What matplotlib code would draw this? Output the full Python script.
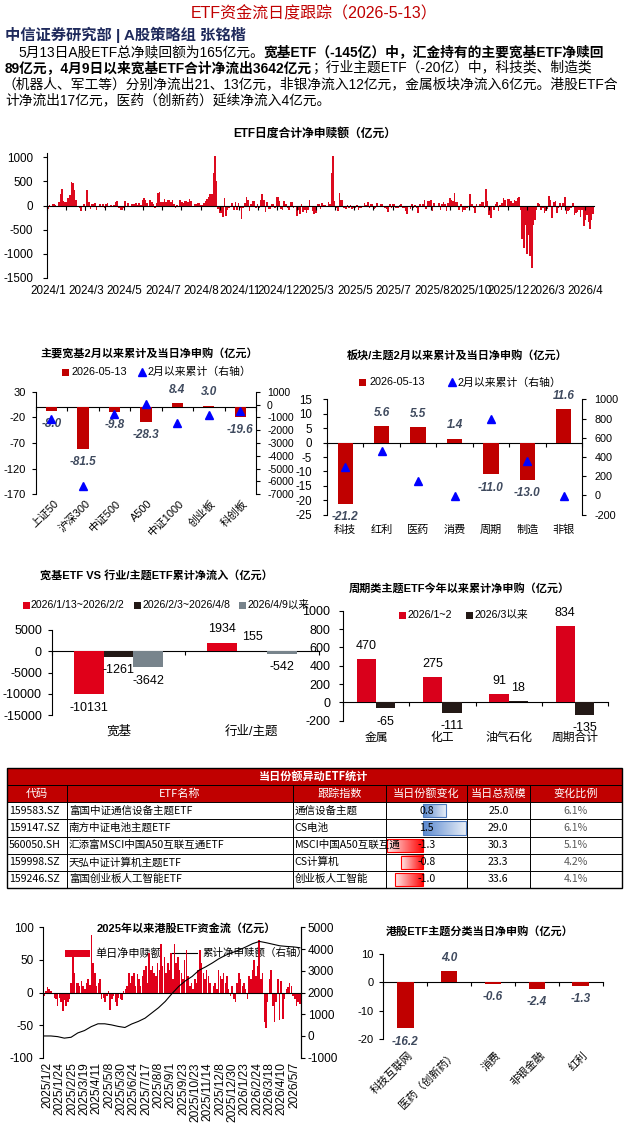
import numpy as np
import matplotlib.pyplot as plt
from matplotlib.patches import Rectangle
from matplotlib.transforms import blended_transform_factory as blend
from matplotlib.colors import to_rgb

plt.rcParams['font.family'] = ['Liberation Sans', 'Noto Sans CJK SC']
plt.rcParams['axes.unicode_minus'] = False

# ---------------- data ----------------
# ETF daily net subscription (100m yuan), 2024/1 -> 2026/5
daily_flow = [
    -70, 20, -20, 30, 30, 20, -20, 80, 230, 350, 100, 80, 80, 150, 220, 490, 470, 330, 120, -30,
    -50, -120, -30, 40, -110, 320, 80, -70, 30, 30, 50, -90, -30, 30, -30, 30, -50, 30, 60, -30,
    20, -20, 20, 80, 100, -50, -100, -100, -40, 100, -20, 60, -20, 30, 30, 30, 60, 20, 60, 20,
    110, 160, 110, 60, -20, 110, 70, 40, -40, 60, 260, 290, 80, 80, 130, 80, 120, 110, 70, 120,
    40, -40, 20, -20, 110, 70, 60, 100, 100, 80, 130, 100, -20, 30, 30, 60, 60, 20, 20, 50,
    90, 130, 180, 250, 250, 670, 1020, 500, -80, -150, -160, -240, 160, -220, -100, -50, -20, 50, -100, 80,
    -100, 60, -40, -280, -40, 60, 180, 110, -110, 30, 100, 100, -50, 30, -50, 120, 250, 120, -130, 70,
    -70, -70, 40, 40, -40, 170, 180, 100, -80, -90, 100, 40, -50, -90, 80, 80, -50, -30, -220, -100,
    -170, 30, -130, -100, -150, -90, 120, -30, -120, -180, -150, 40, 40, -70, 50, 20, 20, -20, 80, 30,
    670, 1020, 100, -50, -110, 270, 110, 110, -50, -70, 20, -60, 20, -70, -40, -40, 20, -100, -40, -40,
    -20, 50, 20, 70, -60, 30, 40, -70, -50, 60, -20, 30, 40, -30, -40, -80, -140, 30, -50, 30,
    40, -40, -60, 20, 30, -60, -50, -120, -170, -20, -70, 40, -40, 20, -50, -150, 30, -30, 40, 120,
    -80, 100, 90, 110, -110, 60, -30, -30, 60, -100, 30, 70, 40, -110, 50, 150, 110, 90, 270, 80,
    70, -100, 30, -130, -100, -90, -40, -20, 230, 30, -60, -150, 30, -30, 40, 70, 80, -60, 350, 90,
    -200, -260, -30, -100, 30, 80, -110, 20,
    60, 150, 120, -20, 140, 130, 100, 60, 120, 100, 150, 170, -100,
    -700, -870, -400, -1000, -600, -1050, -1300, -400,
    -300, -100, 50, 30, -100, -60, -150, -120, -80, 200, 120, -250, 80, 100, -150, -50, 50, -100, 60,
    170, -180, -120, -100, -60, 60, -200, -150, -130, -100, -230, -100, -430, -300, -200, -350, -480,
    -300, -180,
]
daily_labels = ['2024/1', '2024/3', '2024/5', '2024/7', '2024/8', '2024/11', '2024/12', '2025/3',
                '2025/5', '2025/7', '2025/8', '2025/10', '2025/12', '2026/3', '2026/4']

broad_names = ['上证50', '沪深300', '中证500', 'A500', '中证1000', '创业板', '科创板']
broad_today = [-8.0, -81.5, -9.8, -28.3, 8.4, 3.0, -19.6]
broad_cum = [-1150, -6350, -760, 20, -1440, -840, -520]

sector_names = ['科技', '红利', '医药', '消费', '周期', '制造', '非银']
sector_today = [-21.2, 5.6, 5.5, 1.4, -11.0, -13.0, 11.6]
sector_cum = [295, 465, 150, -5, 800, 355, -5]

group_names = ['宽基', '行业/主题']
period_names = ['2026/1/13~2026/2/2', '2026/2/3~2026/4/8', '2026/4/9以来']
flow_p1 = [-10131, 1934]
flow_p2 = [-1261, 155]
flow_p3 = [-3642, -542]

cyc_names = ['金属', '化工', '油气石化', '周期合计']
cyc_jan_feb = [470, 275, 91, 834]
cyc_since_mar = [-65, -111, 18, -135]

tbl_codes = ['159583.SZ', '159147.SZ', '560050.SH', '159998.SZ', '159246.SZ']
tbl_names = ['富国中证通信设备主题ETF', '南方中证电池主题ETF', '汇添富MSCI中国A50互联互通ETF',
             '天弘中证计算机主题ETF', '富国创业板人工智能ETF']
tbl_index = ['通信设备主题', 'CS电池', 'MSCI中国A50互联互通', 'CS计算机', '创业板人工智能']
tbl_share_chg = [0.8, 1.5, -1.3, -0.8, -1.0]
tbl_size = [25.0, 29.0, 30.3, 23.3, 33.6]
tbl_ratio = ['6.1%', '6.1%', '5.1%', '4.2%', '4.1%']

hk_daily = [
    -5, 3, 8, 5, 3, -2, -8, -10, -20, -8, -15, -28, -12, -20, -15, -10, 15, 60, 30, 15,
    15, 10, 18, 10, 5, 15, 20, 12, 88, 45, 30, 10, 15, 20, -10, -8, -15, -5, 3, -27,
    -10, -5, -15, -20, -8, -10, -12, 3, 5, 10, 30, 15, 25, 30, 10, 28, 20, 10, 25, 35,
    40, 15, 60, 35, 40, 30, 25, 45, 35, 75, 40, 55, 30, 45, 35, 60, 20, 74, 45, 55,
    35, 30, 20, 50, 65, 25, 10, 15, 5, 20, 15, 35, 65, 45, 30, 20, 35, 25, 15, -3,
    10, 15, 5, 35, 25, 20, 30, 15, 25, 5, -5, 10, -10, -15, 15, 30, 20, 10, 15, 5,
    -10, 25, 20, 35, 50, 25, 40, 80, 20, 30, -45, -55, -15, 20, 35, -20, -45, -15, 20, -42,
    17, -40, -10, 5, 8, 15, 10, -5, -10, -20, -15, -18,
]
hk_cum = [0, 0, -30, -100, -60, 140, 250, 430, 560, 560, 510, 440, 390, 550, 670, 820, 1060,
          1300, 1590, 1950, 2280, 2540, 2740, 3020, 3180, 3360, 3560, 3720, 3840, 3960, 4100,
          4250, 4350, 4290, 4220, 4150, 4120, 4100, 4060]
hk_labels = ['2025/1/2', '2025/1/24', '2025/2/25', '2025/3/19', '2025/4/11', '2025/5/8', '2025/5/30',
             '2025/6/24', '2025/7/17', '2025/8/8', '2025/9/1', '2025/9/23', '2025/10/23', '2025/11/14',
             '2025/12/8', '2025/12/30', '2026/1/23', '2026/2/24', '2026/3/18', '2026/4/10', '2026/5/7']

hk_theme_names = ['科技互联网', '医药（创新药）', '消费', '非银金融', '红利']
hk_theme_vals = [-16.2, 4.0, -0.6, -2.4, -1.3]

# ---------------- figure ----------------
W, H = 629, 1127
fig = plt.figure(figsize=(W / 100, H / 100), dpi=100)
over = fig.add_axes([0, 0, 1, 1], zorder=10)
over.set_xlim(0, W)
over.set_ylim(H, 0)
over.axis('off')
renderer = fig.canvas.get_renderer()

RED = '#C00000'
LBL = '#3F4A5E'


def axes_px(x0, y0, x1, y1):
    return fig.add_axes([x0 / W, 1 - y1 / H, (x1 - x0) / W, (y1 - y0) / H])


def txt(x, y, s, ax=None, **kw):
    kw.setdefault('ha', 'center')
    kw.setdefault('va', 'center')
    return (ax or over).text(x, y, s, transform=over.transData, **kw)


def square(x, y, c, size=7):
    over.add_patch(Rectangle((x - size / 2, y - size / 2), size, size, color=c, lw=0))


def triangle(x, y):
    over.plot([x], [y], marker='^', ms=5.5, color='#0000FF', ls='none')


def zero_axis(ax, n, lo, hi, ticks=True):
    ax.set_xlim(-0.5, n - 0.5)
    ax.spines[['top', 'bottom']].set_visible(False)
    ax.tick_params(axis='x', bottom=False, labelbottom=False)
    sec = ax.secondary_xaxis(-lo / (hi - lo))
    sec.set_alignment('bottom')
    sec.set_xticks(np.arange(n + 1) - 0.5 if ticks else [])
    sec.tick_params(direction='out', length=3, width=0.8, labelbottom=False)
    sec.spines['bottom'].set_linewidth(0.8)


def yaxis_style(ax, size, pad):
    ax.tick_params(axis='y', direction='out', length=3, width=0.8, labelsize=size, pad=pad)
    for s in ('left', 'right'):
        ax.spines[s].set_linewidth(0.8)


def cat_labels(ax, xs, labels, y, **kw):
    tr = blend(ax.transData, over.transData)
    for x, s in zip(xs, labels):
        over.text(x, y, s, transform=tr, **kw)


def bar_labels(ax, xs, vals, fmt, off=9.5, **kw):
    for x, v in zip(xs, vals):
        ax.annotate(fmt.format(v), (x, v), xytext=(0, off if v >= 0 else -off),
                    textcoords='offset points', ha='center', va='center',
                    annotation_clip=False, **kw)


lab_style = dict(fontsize=8.5, fontweight='bold', style='italic', color=LBL)

# ---------------- header ----------------
txt(314, 14, 'ETF资金流日度跟踪（2026-5-13）', fontsize=11.5, color=RED)
txt(5, 35, '中信证券研究部 | A股策略组 张铭楷', ha='left', fontsize=11, fontweight='bold',
    color='#1F2A5C')

para = [
    (18, 52, [('5月13日A股ETF总净赎回额为165亿元。', False),
              ('宽基ETF（-145亿）中，汇金持有的主要宽基ETF净赎回', True)]),
    (5, 68, [('89亿元，4月9日以来宽基ETF合计净流出3642亿元', True),
             ('；行业主题ETF（-20亿）中，科技类、制造类', False)]),
    (3, 84, [('（机器人、军工等）分别净流出21、13亿元，非银净流入12亿元，金属板块净流入6亿元。港股ETF合', False)]),
    (5, 100, [('计净流出17亿元，医药（创新药）延续净流入4亿元。', False)]),
]
for x, y, segs in para:
    for s, bold in segs:
        t = txt(x, y, s, ha='left', fontsize=9.9, fontweight='bold' if bold else 'normal',
                color='black')
        x += t.get_window_extent(renderer).width

# ---------------- top daily chart ----------------
txt(315, 134, 'ETF日度合计净申赎额（亿元）', fontsize=8.5, fontweight='bold')
ax = axes_px(47, 152.7, 594, 278)
n = len(daily_flow)
ax.bar(np.arange(n), daily_flow, width=1.0, color='#DC0A1E', lw=0)
ax.set_xlim(-0.5, n - 0.5)
ax.set_ylim(-1500, 1095)
ax.set_yticks(range(-1500, 1001, 500))
ax.spines[['top', 'right']].set_visible(False)
ax.spines['bottom'].set_position(('data', 0))
yaxis_style(ax, 8.4, 7)
step = n * 19.2 / 547
ax.set_xticks(np.arange(0, n, step) - 0.5)
ax.tick_params(axis='x', direction='out', length=3, width=0.8, labelbottom=False)
cat_labels(ax, np.arange(len(daily_labels)) * 2 * step, daily_labels, 291, fontsize=8.4,
           ha='center', va='center')

# ---------------- broad-based ETF chart ----------------
txt(149, 353, '主要宽基2月以来累计及当日净申购（亿元）', fontsize=8, fontweight='bold')
square(65, 372, RED)
txt(72, 372, '2026-05-13', ha='left', fontsize=7.8)
triangle(141.7, 372)
txt(147, 372, '2月以来累计（右轴）', ha='left', fontsize=7.8)

ax = axes_px(35.7, 391.7, 256, 494.3)
xs = np.arange(len(broad_names))
ax.bar(xs, broad_today, width=0.36, color=RED)
ax.set_ylim(-170, 30)
ax.set_yticks([-170, -120, -70, -20, 30])
zero_axis(ax, len(xs), -170, 30)
yaxis_style(ax, 8, 4)
ax.spines['right'].set_visible(False)
bar_labels(ax, xs, broad_today, '{:.1f}', **lab_style)
cat_labels(ax, xs + 0.05, broad_names, 498, fontsize=7.8, rotation=45, ha='right', va='top',
           rotation_mode='anchor')
ax2 = ax.twinx()
ax2.set_ylim(-7000, 1000)
ax2.set_yticks(range(-7000, 1001, 1000))
ax2.plot(xs, broad_cum, ls='none', marker='^', ms=6, color='#0000FF')
ax2.spines[['top', 'bottom', 'left']].set_visible(False)
yaxis_style(ax2, 7.6, 5)

# ---------------- sector chart ----------------
txt(456.7, 355.7, '板块/主题2月以来累计及当日净申购（亿元）', fontsize=8, fontweight='bold')
square(362.7, 382.3, RED)
txt(370, 382.3, '2026-05-13', ha='left', fontsize=7.8)
triangle(452.3, 382.3)
txt(458, 382.3, '2月以来累计（右轴）', ha='left', fontsize=7.8)

ax = axes_px(327, 399.3, 582, 514.7)
xs = np.arange(len(sector_names))
ax.bar(xs, sector_today, width=0.42, color=RED)
ax.set_ylim(-25, 15)
ax.set_yticks(range(-25, 16, 5))
zero_axis(ax, len(xs), -25, 15)
yaxis_style(ax, 8.3, 8)
ax.spines['right'].set_visible(False)
bar_labels(ax, xs, sector_today, '{:.1f}', **lab_style)
cat_labels(ax, xs, sector_names, 530, fontsize=8, ha='center', va='center')
ax2 = ax.twinx()
ax2.set_ylim(-200, 1000)
ax2.set_yticks(range(-200, 1001, 200))
ax2.plot(xs, sector_cum, ls='none', marker='^', ms=6, color='#0000FF')
ax2.spines[['top', 'bottom', 'left']].set_visible(False)
yaxis_style(ax2, 7.8, 6)

# ---------------- broad vs sector cumulative ----------------
txt(156, 575, '宽基ETF VS 行业/主题ETF累计净流入（亿元）', fontsize=8, fontweight='bold')
wide_cols = ['#E00019', '#231916', '#78848C']
for (sx, tx), c, s in zip([(26, 30.7), (137.3, 142.7), (242.7, 248)], wide_cols, period_names):
    square(sx, 605, c)
    txt(tx, 605, s, ha='left', fontsize=7.6)

ax = axes_px(51.7, 630, 318.7, 715)
xs = np.arange(len(group_names))
bw = 0.223
for k, (vals, c) in enumerate(zip([flow_p1, flow_p2, flow_p3], wide_cols)):
    ax.bar(xs + (k - 1) * bw, vals, width=bw, color=c)
    bar_labels(ax, xs + (k - 1) * bw, vals, '{:d}', off=10, fontsize=9)
ax.set_ylim(-15000, 5000)
ax.set_yticks(range(-15000, 5001, 5000))
zero_axis(ax, len(xs), -15000, 5000)
yaxis_style(ax, 9, 4)
ax.spines['right'].set_visible(False)
cat_labels(ax, xs, group_names, 731.7, fontsize=9, ha='center', va='center')

# ---------------- cyclical themes ----------------
txt(459, 588.3, '周期类主题ETF今年以来累计净申购（亿元）', fontsize=8, fontweight='bold')
square(402.7, 615, '#D9001B')
txt(407.5, 615, '2026/1~2', ha='left', fontsize=7.7)
square(469, 615, '#231916')
txt(474.5, 615, '2026/3以来', ha='left', fontsize=7.7)

ax = axes_px(343, 610.7, 608, 720.7)
xs = np.arange(len(cyc_names))
for vals, c, dx in [(cyc_jan_feb, '#D9001B', -0.145), (cyc_since_mar, '#231916', 0.145)]:
    ax.bar(xs + dx, vals, width=0.29, color=c)
    bar_labels(ax, xs + dx, vals, '{:d}', off=9.5, fontsize=9)
ax.set_ylim(-200, 1000)
ax.set_yticks(range(-200, 1001, 200))
zero_axis(ax, len(xs), -200, 1000)
yaxis_style(ax, 9, 6)
ax.spines['right'].set_visible(False)
cat_labels(ax, xs, cyc_names, 738, fontsize=8.5, ha='center', va='center')

# ---------------- table ----------------
cols = [6.7, 66.7, 292.7, 386, 466.7, 530, 621.7]
rows = [768.3, 785, 802.3, 819.3, 836.7, 853.7, 871, 887.7]
TF = ['Noto Sans CJK SC']
over.add_patch(Rectangle((cols[0], rows[0]), cols[-1] - cols[0], rows[2] - rows[0],
                         color=RED, lw=0))
txt(314, (rows[0] + rows[1]) / 2, '当日份额异动ETF统计', fontsize=8, fontweight='bold',
    color='white', family=TF)
heads = ['代码', 'ETF名称', '跟踪指数', '当日份额变化', '当日总规模', '变化比例']
for i, hd in enumerate(heads):
    txt((cols[i] + cols[i + 1]) / 2, (rows[1] + rows[2]) / 2, hd, fontsize=8, color='white',
        family=TF)
for y in rows[1:-1]:
    over.plot([cols[0], cols[-1]], [y, y], color='black', lw=0.7)
for x in cols[1:-1]:
    over.plot([x, x], [rows[1], rows[-1]], color='black', lw=0.7)
over.add_patch(Rectangle((cols[0], rows[0]), cols[-1] - cols[0], rows[-1] - rows[0],
                         fill=False, ec='black', lw=1.0))

bar_axis = 423.3
unit = 28.3
for r in range(len(tbl_codes)):
    y0, y1 = rows[r + 2], rows[r + 3]
    yc = (y0 + y1) / 2
    v = tbl_share_chg[r]
    if v >= 0:
        xl, xr = bar_axis, bar_axis + v * unit
        c0, c1, ec = to_rgb('#5B89CF'), to_rgb('#E6EDF7'), '#4F7CC0'
    else:
        xl, xr = bar_axis + v * unit, bar_axis
        c0, c1, ec = to_rgb('#FFE8E8'), to_rgb('#FF0000'), '#FF0000'
    f = np.linspace(0, 1, 64)[None, :, None]
    grad = np.array(c0)[None, None, :] * (1 - f) + np.array(c1)[None, None, :] * f
    over.imshow(grad, extent=(xl, xr, y1 - 2, y0 + 2), aspect='auto', zorder=1,
                interpolation='bilinear')
    over.add_patch(Rectangle((xl, y0 + 2), xr - xl, y1 - y0 - 4, fill=False, ec=ec, lw=0.8,
                             zorder=2))
    txt(cols[0] + 2, yc, tbl_codes[r], ha='left', fontsize=7.6, family=TF)
    txt(cols[1] + 2, yc, tbl_names[r], ha='left', fontsize=7.6, family=TF)
    t = txt(cols[2] + 2, yc, tbl_index[r], ha='left', fontsize=7.6, family=TF)
    clip = Rectangle((cols[2], y0), cols[3] - cols[2], y1 - y0, transform=over.transData)
    t.set_clip_path(clip)
    txt((cols[3] + cols[4]) / 2, yc, '{:.1f}'.format(v), fontsize=7.6, family=TF, zorder=3)
    txt((cols[4] + cols[5]) / 2, yc, '{:.1f}'.format(tbl_size[r]), fontsize=7.6, family=TF)
    txt((cols[5] + cols[6]) / 2, yc, tbl_ratio[r], fontsize=7.6, family=TF, style='italic',
        color='#595959')

# ---------------- HK ETF flows since 2025 ----------------
ax = axes_px(43.3, 927.3, 300.7, 1057.7)
n = len(hk_daily)
ax.bar(np.arange(n), hk_daily, width=0.9, color='#E0001B', lw=0, zorder=2)
ax.set_xlim(-0.5, n - 0.5)
ax.set_ylim(-100, 100)
ax.set_yticks(range(-100, 101, 50))
ax.spines[['top']].set_visible(False)
ax.spines['bottom'].set_position(('data', 0))
ax.tick_params(axis='x', bottom=False, labelbottom=False)
yaxis_style(ax, 8.5, 4)
txt(186, 928, '2025年以来港股ETF资金流（亿元）', ax=ax, fontsize=8, fontweight='bold', zorder=1)
ax.add_patch(Rectangle((65, 950), 25, 6.5, color='#E0001B', lw=0, transform=over.transData,
                       zorder=1))
txt(95, 953, '单日净申赎额', ax=ax, ha='left', fontsize=8, zorder=1)
ax.plot([172, 197], [953, 953], color='black', lw=0.8, transform=over.transData, zorder=1)
leg_t = txt(202, 953, '累计净申赎额（右轴）', ax=ax, ha='left', fontsize=7.6, zorder=1)
leg_t.set_clip_on(True)
lab_pos = n * (0.013 + 0.0479 * np.arange(len(hk_labels)))
cat_labels(ax, lab_pos, hk_labels, 1062, fontsize=8.6, rotation=90, ha='center', va='top')
ax2 = ax.twinx()
ax2.set_ylim(-1000, 5000)
ax2.set_yticks(range(-1000, 5001, 1000))
ax2.plot(np.linspace(0, n - 1, len(hk_cum)), hk_cum, color='black', lw=0.8)
ax2.spines[['top', 'bottom', 'left']].set_visible(False)
yaxis_style(ax2, 8.5, 2)

# ---------------- HK theme flows ----------------
txt(480, 931.7, '港股ETF主题分类当日净申购（亿元）', fontsize=8, fontweight='bold')
ax = axes_px(383.3, 954, 602.7, 1039.3)
xs = np.arange(len(hk_theme_names))
ax.bar(xs, hk_theme_vals, width=0.38, color=RED)
ax.set_ylim(-20, 10)
ax.set_yticks([-20, -10, 0, 10])
zero_axis(ax, len(xs), -20, 10)
yaxis_style(ax, 8, 4)
ax.spines['right'].set_visible(False)
bar_labels(ax, xs, hk_theme_vals, '{:.1f}', **lab_style)
cat_labels(ax, xs + 0.05, hk_theme_names, 1050, fontsize=7.8, rotation=45, ha='right', va='top',
           rotation_mode='anchor')

over.set_xlim(0, W)
over.set_ylim(H, 0)
fig.savefig('out.png', dpi=100)
